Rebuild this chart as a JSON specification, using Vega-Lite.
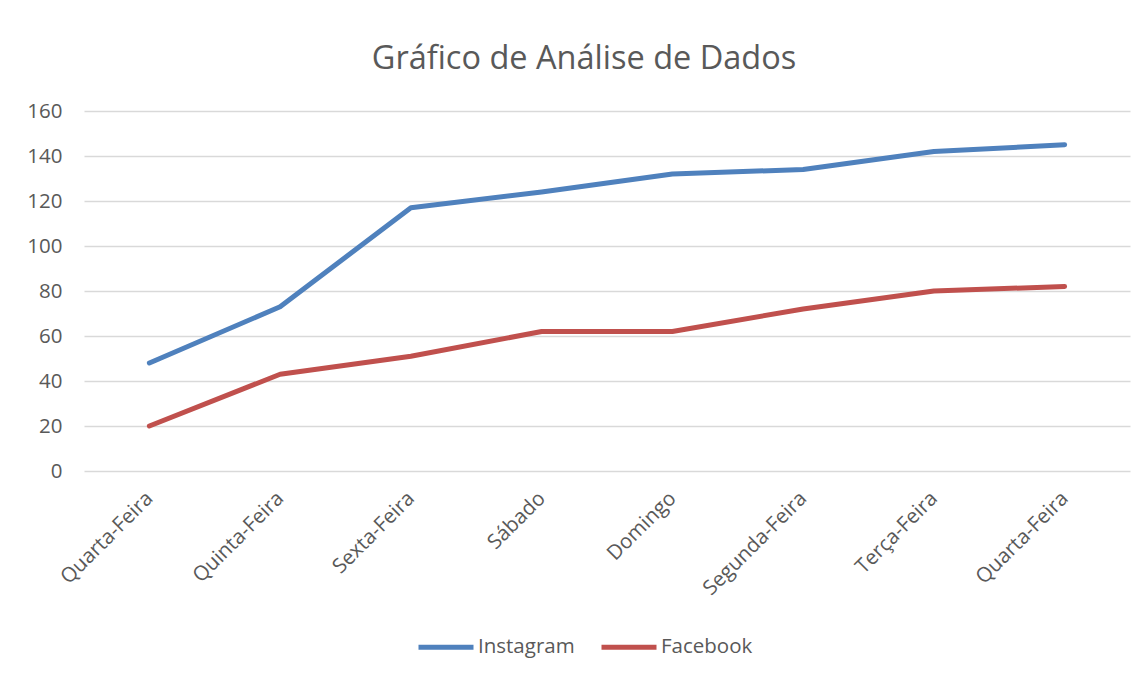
{
  "$schema": "https://vega.github.io/schema/vega-lite/v6.json",
  "autosize": "none",
  "width": 1046,
  "height": 360,
  "padding": {"left": 84, "top": 111, "right": 15, "bottom": 206},
  "background": "white",
  "title": {
    "text": "Gráfico de Análise de Dados",
    "font": "Open Sans",
    "fontSize": 32.5,
    "fontWeight": "normal",
    "color": "#595959",
    "anchor": "middle",
    "dx": -23,
    "offset": 26
  },
  "data": {
    "values": [
      {"ordem": 1, "dia": "Quarta-Feira", "rede": "Instagram", "valor": 48},
      {"ordem": 2, "dia": "Quinta-Feira", "rede": "Instagram", "valor": 73},
      {"ordem": 3, "dia": "Sexta-Feira", "rede": "Instagram", "valor": 117},
      {"ordem": 4, "dia": "Sábado", "rede": "Instagram", "valor": 124},
      {"ordem": 5, "dia": "Domingo", "rede": "Instagram", "valor": 132},
      {"ordem": 6, "dia": "Segunda-Feira", "rede": "Instagram", "valor": 134},
      {"ordem": 7, "dia": "Terça-Feira", "rede": "Instagram", "valor": 142},
      {"ordem": 8, "dia": "Quarta-Feira", "rede": "Instagram", "valor": 145},
      {"ordem": 1, "dia": "Quarta-Feira", "rede": "Facebook", "valor": 20},
      {"ordem": 2, "dia": "Quinta-Feira", "rede": "Facebook", "valor": 43},
      {"ordem": 3, "dia": "Sexta-Feira", "rede": "Facebook", "valor": 51},
      {"ordem": 4, "dia": "Sábado", "rede": "Facebook", "valor": 62},
      {"ordem": 5, "dia": "Domingo", "rede": "Facebook", "valor": 62},
      {"ordem": 6, "dia": "Segunda-Feira", "rede": "Facebook", "valor": 72},
      {"ordem": 7, "dia": "Terça-Feira", "rede": "Facebook", "valor": 80},
      {"ordem": 8, "dia": "Quarta-Feira", "rede": "Facebook", "valor": 82}
    ]
  },
  "mark": {"type": "line", "strokeWidth": 5, "strokeCap": "round", "strokeJoin": "round"},
  "encoding": {
    "x": {
      "field": "ordem",
      "type": "ordinal",
      "scale": {"padding": 0.5},
      "axis": {
        "title": null,
        "labelExpr": "['', 'Quarta-Feira', 'Quinta-Feira', 'Sexta-Feira', 'Sábado', 'Domingo', 'Segunda-Feira', 'Terça-Feira', 'Quarta-Feira'][datum.value]",
        "labelAngle": -45,
        "labelAlign": "right",
        "labelBaseline": "middle",
        "labelPadding": 24,
        "ticks": false,
        "domain": false,
        "grid": false,
        "labelFont": "Open Sans",
        "labelFontSize": 20.5,
        "labelColor": "#595959"
      }
    },
    "y": {
      "field": "valor",
      "type": "quantitative",
      "scale": {"domain": [0, 160], "nice": false},
      "axis": {
        "title": null,
        "values": [0, 20, 40, 60, 80, 100, 120, 140, 160],
        "ticks": false,
        "tickSize": 0,
        "domain": false,
        "grid": true,
        "gridColor": "#d9d9d9",
        "gridWidth": 1.5,
        "labelPadding": 22,
        "labelFont": "Open Sans",
        "labelFontSize": 20.5,
        "labelColor": "#595959"
      }
    },
    "color": {
      "field": "rede",
      "type": "nominal",
      "scale": {"domain": ["Instagram", "Facebook"], "range": ["#4f81bd", "#c0504d"]},
      "legend": {
        "title": null,
        "orient": "none",
        "direction": "horizontal",
        "legendX": 332,
        "legendY": 506,
        "symbolType": "stroke",
        "symbolSize": 3025,
        "symbolStrokeWidth": 5,
        "labelFont": "Open Sans",
        "labelFontSize": 20.5,
        "labelColor": "#595959",
        "labelOffset": 2,
        "columnPadding": 16
      }
    }
  },
  "config": {
    "view": {"stroke": null}
  }
}
